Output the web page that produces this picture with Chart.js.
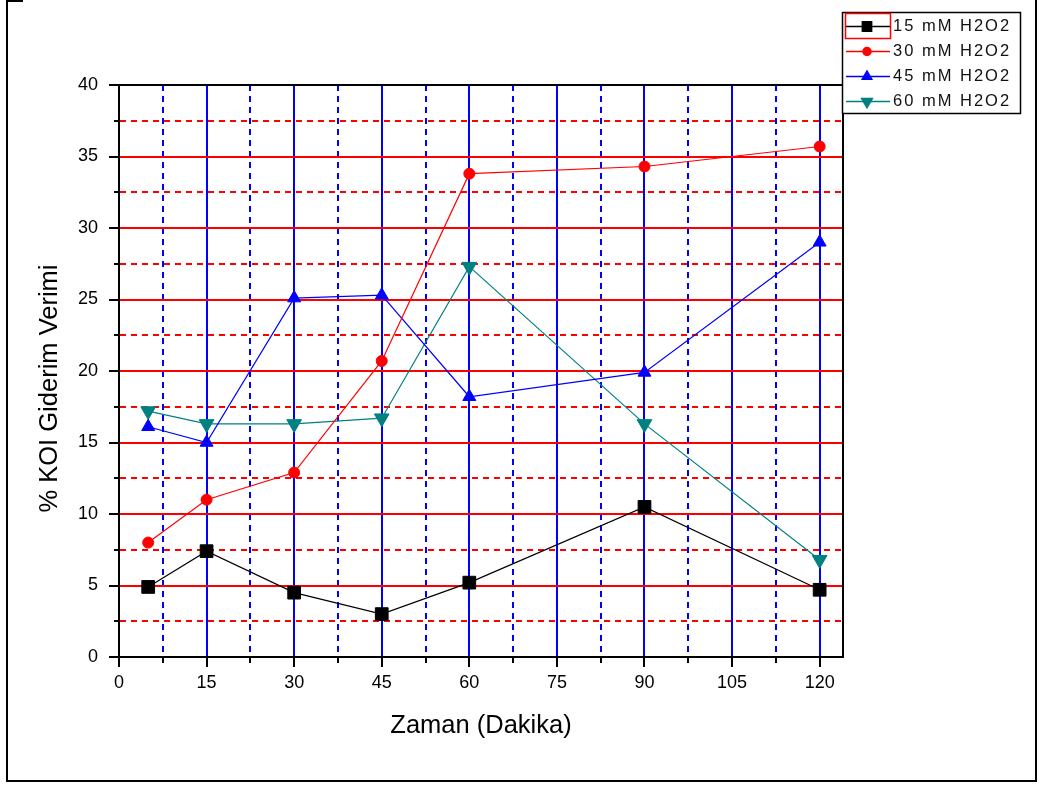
<!DOCTYPE html>
<html>
<head>
<meta charset="utf-8">
<title>% KOI Giderim Verimi</title>
<script src="https://cdn.jsdelivr.net/npm/chart.js@4/dist/chart.umd.min.js"></script>
<style>
  html, body { margin: 0; padding: 0; background: #fff; }
  #wrap { position: relative; width: 1039px; height: 785px; overflow: hidden; }
  #c { position: absolute; left: 0; top: 0; }
  .frame { position: absolute; background: #000; }
</style>
</head>
<body>
<div id="wrap">
  <canvas id="c" width="1039" height="785"></canvas>
  <div class="frame" style="left:6px;top:0;width:2px;height:782px"></div>
  <div class="frame" style="left:6px;top:0;width:17px;height:2px"></div>
  <div class="frame" style="left:6px;top:780px;width:1031px;height:2px"></div>
  <div class="frame" style="left:1035px;top:0;width:2px;height:782px"></div>
</div>
<script>
// Reaction time (minutes)
const times = [5, 15, 30, 45, 60, 90, 120];

// COD removal efficiency (%) for each H2O2 dose
const koi15 = [4.9, 7.4, 4.5, 3.0, 5.2, 10.5, 4.7];
const koi30 = [8.0, 11.0, 12.9, 20.7, 33.8, 34.3, 35.7];
const koi45 = [16.1, 15.0, 25.1, 25.3, 18.2, 19.9, 29.0];
const koi60 = [17.2, 16.3, 16.3, 16.7, 27.3, 16.3, 6.8];

const seriesLabels = ['15 mM H2O2', '30 mM H2O2', '45 mM H2O2', '60 mM H2O2'];
const xTitle = 'Zaman (Dakika)';
const yTitle = '% KOI Giderim Verimi';

const FONT = '"Liberation Sans", Arial, sans-serif';
const RED = '#ff0000';
const BLUE = '#0000ff';
const TEAL = '#008080';
const NONE = 'rgba(0,0,0,0)';

const toPoints = (vals) => times.map((t, i) => ({ x: t, y: vals[i] }));

function series(label, vals, color, style, radius, rotation) {
  return {
    label,
    data: toPoints(vals),
    borderColor: color,
    backgroundColor: color,
    borderWidth: 1.2,
    pointStyle: style,
    pointRadius: radius,
    pointHoverRadius: radius,
    pointRotation: rotation || 0,
    pointBackgroundColor: color,
    pointBorderColor: color,
    pointBorderWidth: 1,
    tension: 0,
    fill: false
  };
}

const datasets = [
  series(seriesLabels[0], koi15, '#000000', 'rect', 9, 0),
  series(seriesLabels[1], koi30, RED, 'circle', 5.5, 0),
  series(seriesLabels[2], koi45, BLUE, 'triangle', 7.5, 0),
  series(seriesLabels[3], koi60, TEAL, 'triangle', 8.5, 180)
];

const tickVal = (c) => (c && c.tick) ? c.tick.value : null;

// Axis frame (top / right), rotated y title and boxed legend
const decorations = {
  id: 'decorations',
  afterDraw(chart) {
    const ctx = chart.ctx;
    const a = chart.chartArea;
    ctx.save();
    ctx.strokeStyle = '#000';
    ctx.lineWidth = 2;
    ctx.beginPath();
    ctx.moveTo(a.left, a.top);
    ctx.lineTo(a.right, a.top);
    ctx.lineTo(a.right, a.bottom);
    ctx.stroke();

    // y-axis title
    ctx.save();
    ctx.translate(50, 388.5);
    ctx.rotate(-Math.PI / 2);
    ctx.font = '25.5px ' + FONT;
    ctx.fillStyle = '#000';
    ctx.textAlign = 'center';
    ctx.textBaseline = 'middle';
    ctx.fillText(yTitle, 0, 0);
    ctx.restore();

    // legend box
    const bx = 842, by = 12, bw = 178, bh = 101;
    ctx.fillStyle = '#fff';
    ctx.fillRect(bx, by, bw, bh);
    ctx.lineWidth = 1.5;
    ctx.strokeStyle = '#000';
    ctx.strokeRect(bx + 0.5, by + 0.5, bw, bh);

    chart.data.datasets.forEach((ds, i) => {
      const y = 26.5 + i * 25;
      ctx.strokeStyle = ds.borderColor;
      ctx.lineWidth = 1.6;
      ctx.beginPath();
      ctx.moveTo(846, y);
      ctx.lineTo(890, y);
      ctx.stroke();
      ctx.fillStyle = ds.pointBackgroundColor;
      ctx.strokeStyle = ds.pointBorderColor;
      Chart.helpers.drawPoint(ctx, {
        pointStyle: ds.pointStyle,
        radius: ds.pointRadius * 0.72,
        rotation: ds.pointRotation,
        borderWidth: 1
      }, 867, y);
      ctx.fillStyle = '#111';
      ctx.font = '16.5px ' + FONT;
      ctx.textAlign = 'left';
      ctx.textBaseline = 'middle';
      if ('letterSpacing' in ctx) ctx.letterSpacing = '2px';
      ctx.fillText(ds.label, 893, y);
      if ('letterSpacing' in ctx) ctx.letterSpacing = '0px';
    });

    // highlight frame around the first legend sample
    ctx.strokeStyle = RED;
    ctx.lineWidth = 1.5;
    ctx.strokeRect(845.5, 13.5, 45, 25);
    ctx.restore();
  }
};

new Chart(document.getElementById('c'), {
  type: 'line',
  data: { datasets },
  options: {
    responsive: false,
    animation: false,
    events: [],
    layout: { padding: { left: 0, top: 85, right: 196, bottom: 0 } },
    plugins: { legend: { display: false }, tooltip: { enabled: false } },
    scales: {
      x: {
        type: 'linear',
        min: 0,
        max: 124,
        afterFit(s) { s.height = 128; },
        ticks: {
          stepSize: 7.5,
          includeBounds: false,
          autoSkip: false,
          maxRotation: 0,
          padding: 5,
          color: '#000',
          font: { family: FONT, size: 18 },
          callback: (v) => (v % 15 === 0 ? String(v) : '')
        },
        grid: {
          color: (c) => { const v = tickVal(c); return (v === null || v === 0) ? NONE : BLUE; },
          lineWidth: 2,
          tickColor: '#000',
          tickWidth: 2,
          tickLength: 10,
          tickBorderDash: (c) => { const v = tickVal(c); return (v !== null && v % 15 !== 0) ? [5, 30] : []; }
        },
        border: {
          color: '#000',
          width: 2,
          dash: (c) => { const v = tickVal(c); return (v !== null && v % 15 !== 0) ? [6, 5] : []; }
        },
        title: {
          display: true,
          text: xTitle,
          color: '#000',
          font: { family: FONT, size: 25.5 },
          padding: { top: 0, bottom: 44 }
        }
      },
      y: {
        type: 'linear',
        min: 0,
        max: 40,
        afterFit(s) { s.width = 119; },
        ticks: {
          stepSize: 2.5,
          includeBounds: false,
          autoSkip: false,
          padding: 11,
          color: '#000',
          font: { family: FONT, size: 18 },
          callback: (v) => (v % 5 === 0 ? String(v) : '')
        },
        grid: {
          color: (c) => { const v = tickVal(c); return (v === null || v === 0 || v === 40) ? NONE : RED; },
          lineWidth: 2,
          tickColor: '#000',
          tickWidth: 2,
          tickLength: 10,
          tickBorderDash: (c) => { const v = tickVal(c); return (v !== null && v % 5 !== 0) ? [0, 5, 5, 30] : []; }
        },
        border: {
          color: '#000',
          width: 2,
          dash: (c) => { const v = tickVal(c); return (v !== null && v % 5 !== 0) ? [6, 5] : []; }
        },
        title: { display: false }
      }
    }
  },
  plugins: [decorations]
});
</script>
</body>
</html>
